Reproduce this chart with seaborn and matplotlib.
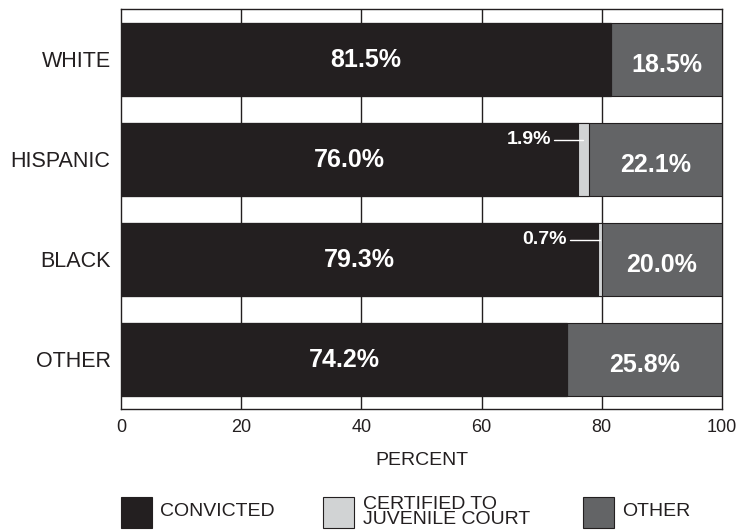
import matplotlib
matplotlib.use("Agg")
import matplotlib.pyplot as plt
import seaborn as sns
import pandas as pd
from matplotlib.patches import Rectangle

groups = ["WHITE", "HISPANIC", "BLACK", "OTHER"]
convicted = [81.5, 76.0, 79.3, 74.2]
certified = [0.0, 1.9, 0.7, 0.0]
other = [18.5, 22.1, 20.0, 25.8]
legend_labels = ["CONVICTED", "CERTIFIED TO\nJUVENILE COURT", "OTHER"]
xticks = [0, 20, 40, 60, 80, 100]

c_conv = "#231f20"
c_cert = "#d1d3d4"
c_other = "#636466"
edge = "#231f20"

sns.set_style("white")
plt.rcParams["font.family"] = ["Liberation Sans", "DejaVu Sans"]

df = pd.DataFrame({"group": groups, "conv": convicted, "cert": certified, "other": other})
df["cum2"] = df["conv"] + df["cert"]
df["cum3"] = df["cum2"] + df["other"]

fig = plt.figure(figsize=(7.37, 5.31), dpi=100)
ax = fig.add_axes([121/737, 1 - 409/531, 601/737, 400/531])

for col, color in [("cum3", c_other), ("cum2", c_cert), ("conv", c_conv)]:
    sns.barplot(data=df, x=col, y="group", order=groups, color=color, width=0.73,
                edgecolor=edge, linewidth=0.8, saturation=1, ax=ax, zorder=3)

ax.set_xlim(0, 100)
ax.set_ylim(3.5, -0.5)
ax.set_xticks(xticks)
ax.set_xticklabels([str(t) for t in xticks], fontsize=13)
ax.tick_params(axis="both", length=0, colors="#231f20")
ax.tick_params(axis="x", pad=7)
ax.tick_params(axis="y", pad=7.5, labelsize=15.5)
for t in [20, 40, 60, 80]:
    ax.axvline(t, color="#231f20", lw=1.0, zorder=1)
for s in ax.spines.values():
    s.set_visible(True)
    s.set_color("#231f20")
    s.set_linewidth(1.0)
ax.set_xlabel("PERCENT", fontsize=14, labelpad=12, color="#231f20")
ax.set_ylabel("")

for i in range(len(groups)):
    ax.text(convicted[i] / 2, i + 0.01, f"{convicted[i]:.1f}%", color="white",
            fontsize=18, fontweight="bold", ha="center", va="center", zorder=5)
    ax.text(convicted[i] + certified[i] + other[i] / 2, i + 0.06, f"{other[i]:.1f}%",
            color="white", fontsize=18, fontweight="bold", ha="center", va="center", zorder=5)
    if certified[i] > 0:
        xc = convicted[i] + certified[i] / 2
        ax.plot([xc - 4.9, xc], [i - 0.19, i - 0.19], color="white", lw=1.0, zorder=5)
        ax.text(xc - 5.4, i - 0.19, f"{certified[i]:.1f}%", color="white",
                fontsize=14, fontweight="bold", ha="right", va="center", zorder=5)

# legend
colors = [c_conv, c_cert, c_other]
patch_x = [121, 323, 583]
text_x = [160, 363, 622]
for x0, tx, col, lab in zip(patch_x, text_x, colors, legend_labels):
    fig.add_artist(Rectangle((x0 / 737, 1 - 528 / 531), 31 / 737, 31 / 531,
                             transform=fig.transFigure, facecolor=col,
                             edgecolor=edge, linewidth=0.8))
    fig.text(tx / 737, 1 - 512 / 531, lab, fontsize=14, va="center",
             ha="left", color="#231f20", linespacing=0.85)

fig.savefig("out.png", dpi=100)
